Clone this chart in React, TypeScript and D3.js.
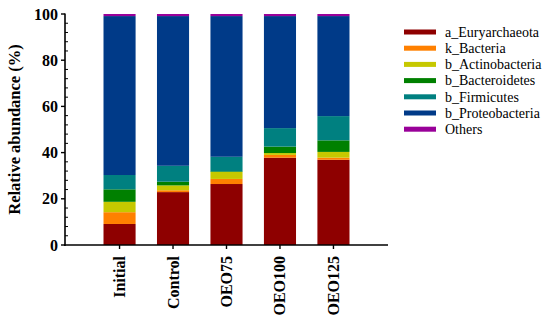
import React from "react";
import * as d3 from "d3";

const categories = ["Initial", "Control", "OEO75", "OEO100", "OEO125"];
const seriesNames = [
  "a_Euryarchaeota",
  "k_Bacteria",
  "b_Actinobacteria",
  "b_Bacteroidetes",
  "b_Firmicutes",
  "b_Proteobacteria",
  "Others",
];
const euryarchaeota = [9.1, 22.9, 26.4, 37.8, 36.9];
const kBacteria = [5.1, 0.8, 2.2, 1.2, 0.9];
const actinobacteria = [4.5, 2.1, 3.0, 0.8, 2.5];
const bacteroidetes = [5.4, 1.6, 0.3, 2.8, 5.0];
const firmicutes = [6.2, 6.9, 6.3, 8.0, 10.5];
const proteobacteria = [68.8, 64.8, 60.9, 48.5, 43.3];
const others = [0.9, 0.9, 0.9, 0.9, 0.9];
const colors = ["#8e0000", "#ff8000", "#c6c800", "#008000", "#008080", "#003a88", "#990099"];
const yTicks = [0, 20, 40, 60, 80, 100];

const seriesValues = [euryarchaeota, kBacteria, actinobacteria, bacteroidetes, firmicutes, proteobacteria, others];

export default function App() {
  const W = 550, H = 324;
  const x0 = 65, x1 = 388, yTop = 14, yBot = 245;
  const x = d3.scaleBand<string>().domain(categories).range([x0, x1]).paddingInner(0.4).paddingOuter(0.72);
  const y = d3.scaleLinear().domain([0, 100]).range([yBot, yTop]);

  const rows = categories.map((c, i) => {
    const r: any = { cat: c };
    seriesNames.forEach((s, j) => (r[s] = seriesValues[j][i]));
    return r;
  });
  const stacked = d3.stack().keys(seriesNames)(rows);
  const minor = d3.range(0, 101, 4).filter((v) => v % 20 !== 0);
  const ts: React.CSSProperties = { fontFamily: '"Liberation Serif", serif' };

  return (
    <svg width={W} height={H} style={{ position: "absolute", left: 0, top: 0, background: "#fff" }}>
      {stacked.map((layer, j) => (
        <g key={j} fill={colors[j]}>
          {layer.map((d, i) => (
            <rect key={i} x={x(categories[i])} width={x.bandwidth()} y={y(d[1])} height={Math.max(0, y(d[0]) - y(d[1]))} />
          ))}
        </g>
      ))}
      {/* y axis */}
      <line x1={x0} x2={x0} y1={yTop - 0.5} y2={yBot + 1} stroke="#000" strokeWidth={1.6} />
      {yTicks.map((t) => (
        <g key={t}>
          <line x1={x0 - 4} x2={x0} y1={y(t)} y2={y(t)} stroke="#000" strokeWidth={1.4} />
          <text x={x0 - 7} y={y(t) + 5.5} textAnchor="end" fontSize={16} fontWeight="bold" style={ts}>{t}</text>
        </g>
      ))}
      {minor.map((t) => (
        <line key={t} x1={x0} x2={x0 + 3} y1={y(t)} y2={y(t)} stroke="#000" strokeWidth={1} />
      ))}
      {/* x axis */}
      <line x1={x0 - 1} x2={x1} y1={yBot} y2={yBot} stroke="#000" strokeWidth={1.6} />
      {categories.map((c) => {
        const cx = (x(c) as number) + x.bandwidth() / 2;
        return (
          <g key={c}>
            <line x1={cx} x2={cx} y1={yBot} y2={yBot + 4} stroke="#000" strokeWidth={1.4} />
            <text transform={`translate(${cx + 5.5},${yBot + 11}) rotate(-90)`} textAnchor="end" fontSize={16} fontWeight="bold" style={ts}>{c}</text>
          </g>
        );
      })}
      <text transform={`translate(20,${(yTop + yBot) / 2}) rotate(-90)`} textAnchor="middle" fontSize={16.5} fontWeight="bold" style={ts}>Relative abundance (%)</text>
      {/* legend */}
      {seriesNames.map((s, j) => (
        <g key={s} transform={`translate(404,${32 + j * 16.2})`}>
          <rect x={0} y={-2.5} width={32} height={5} fill={colors[j]} />
          <text x={41} y={4.8} fontSize={14} style={ts}>{s}</text>
        </g>
      ))}
    </svg>
  );
}
